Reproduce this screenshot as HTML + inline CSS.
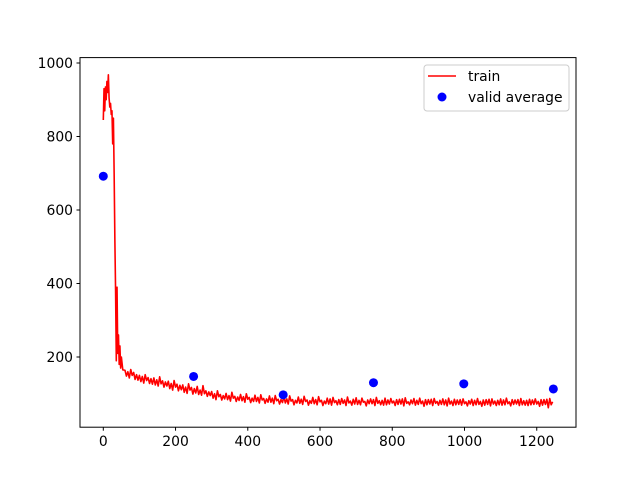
<!DOCTYPE html>
<html><head><meta charset="utf-8"><style>
html,body{margin:0;padding:0;background:#fff;}
svg{display:block;font-family:"DejaVu Sans","Liberation Sans",sans-serif;}
</style></head><body>
<svg id="chart" width="640" height="480" xmlns="http://www.w3.org/2000/svg">
<rect width="640" height="480" fill="#fff"/>
<g id="plot"></g>
<rect x="80" y="57.6" width="496" height="369.6" fill="none" stroke="#000" stroke-width="1"/>
<g id="xticks"></g>
<g id="yticks"></g>
<g>
<rect x="424" y="65" width="145" height="46" rx="3" fill="#fff" fill-opacity="0.8" stroke="#ccc"/>
<line x1="428" y1="76" x2="456" y2="76" stroke="#f00" stroke-width="1.5"/>
<text x="468" y="81" font-size="13.9">train</text>
<circle cx="442" cy="97" r="4.5" fill="#00f"/>
<text x="468" y="102" font-size="13.9">valid average</text>
</g>
</svg>
<script>
const earlyX=[0,2,4,6,8,10,12,14,16,18,20,22,24,26,28,30,32,34,36,38,40,42,44,46,48,50,54];
const earlyY=[845,930,870,935,900,950,920,968,905,880,890,860,870,780,850,700,520,380,190,390,210,260,180,230,170,200,165];
const trainStart=60, trainStep=4;
const trainY=[164,148,160,143,166,150,158,139,152,137,
150,133,147,129,152,136,144,128,141,126,
143,124,138,121,146,127,135,118,132,121,
134,114,128,110,136,118,126,108,123,111,
124,104,118,101,127,110,117,99,114,102,
120,98,110,96,122,100,108,93,105,95,
106,88,100,84,108,92,98,83,95,86,
101,84,95,80,104,88,93,79,91,82,
98,81,92,77,100,85,90,76,88,79,
96,79,90,75,97,83,87,74,86,77,
94,77,88,73,95,81,85,72,84,76,
92,75,86,72,94,80,84,70,82,75,
91,74,85,71,93,79,83,69,81,74,
90,73,84,70,92,78,82,68,80,73,
88,72,86,69,90,76,81,70,84,71,
87,74,83,68,91,75,80,69,85,72,
89,71,82,70,88,77,79,67,83,73,
86,73,84,68,90,74,81,70,82,69,
88,70,83,72,87,75,80,68,84,71,
85,72,86,67,89,74,78,70,83,73,
87,69,82,71,88,73,80,66,84,70,
84,72,85,68,87,74,79,69,82,71,
86,70,83,67,88,72,80,68,85,70,
83,71,84,69,86,73,78,67,81,72,
85,68,82,70,87,71,79,66,83,69,
84,71,85,67,86,72,80,68,82,70,
86,69,83,70,88,73,78,67,84,71,
83,72,84,68,87,70,81,69,82,68,
85,70,83,71,86,72,79,66,84,69,
84,71,85,62,87,70,78];
const validX=[0,250,498,748,998,1246];
const validY=[692,147,97,130,127,113];
const xTicks=[0,200,400,600,800,1000,1200];
const yTicks=[200,400,600,800,1000];

const NS="http://www.w3.org/2000/svg";
function sx(v){return 103.3+v*0.3612;}
function sy(v){return 63+(1000-v)*(294/800);}
const plot=document.getElementById('plot');
let pts=[];
for(let i=0;i<earlyX.length;i++)pts.push(sx(earlyX[i]).toFixed(2)+","+sy(earlyY[i]).toFixed(2));
for(let i=0;i<trainY.length;i++)pts.push(sx(trainStart+i*trainStep).toFixed(2)+","+sy(trainY[i]).toFixed(2));
const pl=document.createElementNS(NS,'polyline');
pl.setAttribute('points',pts.join(' '));
pl.setAttribute('fill','none');pl.setAttribute('stroke','#f00');pl.setAttribute('stroke-width','1.6');pl.setAttribute('stroke-linejoin','round');


plot.appendChild(pl);
for(let i=0;i<validX.length;i++){
 const c=document.createElementNS(NS,'circle');
 c.setAttribute('cx',sx(validX[i]));c.setAttribute('cy',sy(validY[i]));c.setAttribute('r',4.5);c.setAttribute('fill','#00f');
 
 
 plot.appendChild(c);
}
const xg=document.getElementById('xticks');
for(const t of xTicks){
 const x=sx(t);
 const l=document.createElementNS(NS,'line');
 l.setAttribute('x1',x);l.setAttribute('x2',x);l.setAttribute('y1',427.2);l.setAttribute('y2',430.7);l.setAttribute('stroke','#000');
 
 
 xg.appendChild(l);
 const tx=document.createElementNS(NS,'text');
 tx.setAttribute('x',x);tx.setAttribute('y',446);tx.setAttribute('text-anchor','middle');tx.setAttribute('font-size','13.9');
 tx.textContent=t;
 
 
 xg.appendChild(tx);
}
const yg=document.getElementById('yticks');
for(const t of yTicks){
 const y=sy(t);
 const l=document.createElementNS(NS,'line');
 l.setAttribute('x1',76.5);l.setAttribute('x2',80);l.setAttribute('y1',y);l.setAttribute('y2',y);l.setAttribute('stroke','#000');
 
 
 yg.appendChild(l);
 const tx=document.createElementNS(NS,'text');
 tx.setAttribute('x',73);tx.setAttribute('y',y+5);tx.setAttribute('text-anchor','end');tx.setAttribute('font-size','13.9');
 tx.textContent=t;
 
 
 yg.appendChild(tx);
}
</script>
</body></html>
